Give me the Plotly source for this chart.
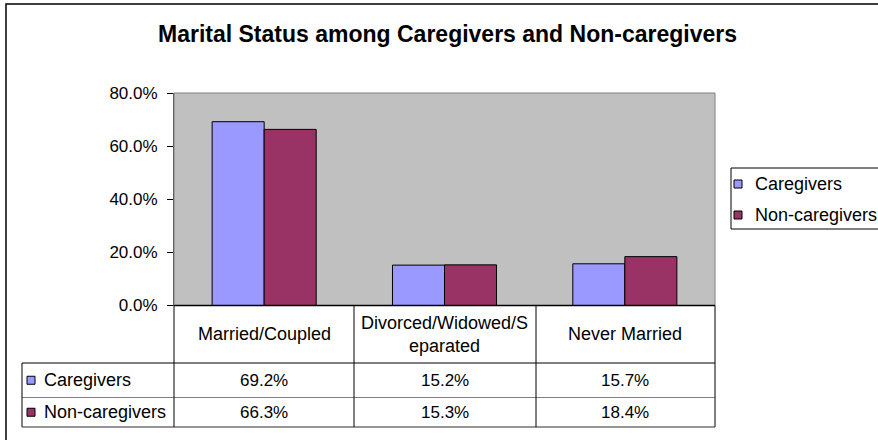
import plotly.graph_objects as go

# ---- data ----
categories = ["Married/Coupled", "Divorced/Widowed/Separated", "Never Married"]
header_labels = ["Married/Coupled", "Divorced/Widowed/S<br>eparated", "Never Married"]
series_names = ["Caregivers", "Non-caregivers"]
caregivers = [0.692, 0.152, 0.157]
non_caregivers = [0.663, 0.153, 0.184]
y_ticks = [0.0, 0.2, 0.4, 0.6, 0.8]
y_tick_labels = ["0.0%", "20.0%", "40.0%", "60.0%", "80.0%"]
title_text = "Marital Status among Caregivers and Non-caregivers"

W, H = 878, 440
colors = ["#9999FF", "#993366"]
FONT = "Liberation Sans, Arial, sans-serif"


def X(px):
    return px / W


def Y(py):
    return 1 - py / H


# plot area in pixels
PL, PR, PT, PB = 174, 715, 93, 305.5
# table rows
R1, R2, R3 = 363, 397.5, 427
TL = 22
col_lines = [354, 536]

fig = go.Figure()
series_values = [caregivers, non_caregivers]
for name, vals, c in zip(series_names, series_values, colors):
    fig.add_trace(go.Bar(
        x=categories, y=vals, name=name,
        marker=dict(color=c, line=dict(color="black", width=1)),
    ))

shapes = []
# outer chart border
shapes.append(dict(type="rect", xref="paper", yref="paper",
                   x0=X(6), x1=X(900), y0=Y(4), y1=Y(470),
                   line=dict(color="black", width=1.5), layer="below"))
# plot area outline (gray)
shapes.append(dict(type="rect", xref="paper", yref="paper",
                   x0=X(PL), x1=X(PR), y0=Y(PT), y1=Y(PB),
                   line=dict(color="#808080", width=1)))


def hline(py, x0, x1, color="black", w=1):
    shapes.append(dict(type="line", xref="paper", yref="paper",
                       x0=X(x0), x1=X(x1), y0=Y(py), y1=Y(py),
                       line=dict(color=color, width=w)))


def vline(px, y0, y1, color="black", w=1):
    shapes.append(dict(type="line", xref="paper", yref="paper",
                       x0=X(px), x1=X(px), y0=Y(y0), y1=Y(y1),
                       line=dict(color=color, width=w)))


# table lines
hline(PB, PL, PR, "black", 1.5)
hline(R1, TL, PR, "black", 1.2)
hline(R2, TL, PR, "#808080", 1)
hline(R3, TL, PR, "#303030", 1.2)
vline(PL, PB, R3)
for cx in col_lines:
    vline(cx, PB, R3)
vline(PR, PB, R3)
vline(TL, R1, R3)

annotations = []
# title
annotations.append(dict(text="<b>" + title_text + "</b>", xref="paper", yref="paper",
                        x=X(447.5), y=Y(34), showarrow=False,
                        font=dict(family=FONT, size=23, color="black"),
                        xanchor="center", yanchor="middle"))
# header labels
for cat, lab in zip(categories, header_labels):
    annotations.append(dict(text=lab, xref="x", yref="paper", x=cat, y=Y((PB + R1) / 2),
                            showarrow=False, font=dict(family=FONT, size=18, color="black"),
                            xanchor="center", yanchor="middle"))
# row labels and values
row_centers = [(R1 + R2) / 2, (R2 + R3) / 2]
for name, vals, c, rc in zip(series_names, series_values, colors, row_centers):
    shapes.append(dict(type="rect", xref="paper", yref="paper",
                       x0=X(27), x1=X(35), y0=Y(rc - 4), y1=Y(rc + 4),
                       fillcolor=c, line=dict(color="black", width=1)))
    annotations.append(dict(text=name, xref="paper", yref="paper", x=X(42), y=Y(rc),
                            showarrow=False, font=dict(family=FONT, size=18, color="black"),
                            xanchor="left", yanchor="middle"))
    for cat, v in zip(categories, vals):
        annotations.append(dict(text=f"{v * 100:.1f}%", xref="x", yref="paper", x=cat, y=Y(rc),
                                showarrow=False, font=dict(family=FONT, size=17, color="black"),
                                xanchor="center", yanchor="middle"))

# legend box (built from the series names / colours)
LGL, LGT, LGB = 731, 168, 229
shapes.append(dict(type="rect", xref="paper", yref="paper",
                   x0=X(LGL), x1=X(900), y0=Y(LGT), y1=Y(LGB),
                   line=dict(color="black", width=1), fillcolor="white"))
legend_centers = [184, 215]
for name, c, lc in zip(series_names, colors, legend_centers):
    shapes.append(dict(type="rect", xref="paper", yref="paper",
                       x0=X(734), x1=X(742), y0=Y(lc - 4), y1=Y(lc + 4),
                       fillcolor=c, line=dict(color="black", width=1)))
    annotations.append(dict(text=name, xref="paper", yref="paper", x=X(753), y=Y(lc),
                            showarrow=False, font=dict(family=FONT, size=18, color="black"),
                            xanchor="left", yanchor="middle"))

fig.update_layout(
    width=W, height=H,
    margin=dict(l=0, r=0, t=0, b=0, pad=0, autoexpand=False),
    paper_bgcolor="white",
    plot_bgcolor="#C0C0C0",
    barmode="group",
    bargap=0.423,
    bargroupgap=0,
    showlegend=False,
    xaxis=dict(domain=[X(PL), X(PR)], showticklabels=False, ticks="",
               showgrid=False, zeroline=False, showline=False, fixedrange=True,
               automargin=False),
    yaxis=dict(domain=[Y(PB), Y(PT)], range=[0, 0.8], tickvals=y_ticks,
               ticktext=y_tick_labels, ticks="outside", ticklen=6,
               tickcolor="black", showgrid=False, zeroline=False,
               showline=True, linecolor="#404040", linewidth=1,
               ticklabelstandoff=6, automargin=False,
               tickfont=dict(family=FONT, size=17, color="black"), fixedrange=True),
    shapes=shapes,
    annotations=annotations,
    font=dict(family=FONT),
)

post = ("document.body.style.margin='0';document.body.style.padding='0';"
        "document.body.style.overflow='hidden';"
        "var gd=document.getElementById('{plot_id}');"
        "gd.style.position='fixed';gd.style.left='0px';gd.style.top='0px';")

fig.write_html("out.html", config={"displayModeBar": False}, post_script=post)
